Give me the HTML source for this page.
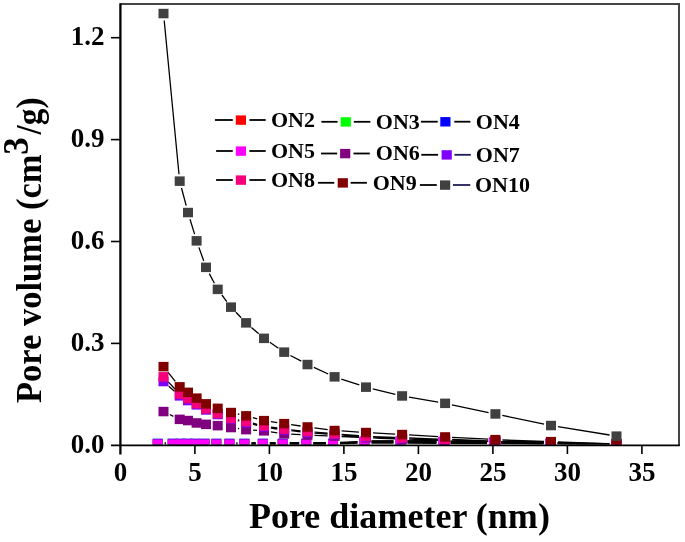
<!DOCTYPE html>
<html><head><meta charset="utf-8"><style>
html,body{margin:0;padding:0;background:#fff;}
svg{display:block;}
text{font-family:"Liberation Serif",serif;font-weight:bold;fill:#000;}
svg{will-change:transform;}
</style></head><body>
<svg width="685" height="542" viewBox="0 0 685 542">
<rect width="685" height="542" fill="#fff"/>
<defs><clipPath id="pc"><rect x="121" y="5" width="557" height="439.5"/></clipPath></defs>
<g clip-path="url(#pc)">
<path d="M164.7 444.0L165.7 444.0M236.4 444.0L237.4 444.0M251.4 444.0L255.8 444.0M269.8 444.0L275.7 444.0M289.7 444.0L299.2 444.0M313.2 444.0L326.0 444.0M340.0 443.8L357.5 443.2M371.5 443.0L393.5 443.2M407.5 443.2L436.5 443.4M450.5 443.4L487.0 443.6M501.0 443.6L543.5 444.0M557.5 444.1L609.5 444.4M164.7 444.3L165.7 444.3M236.4 444.3L237.4 444.3M251.4 444.3L255.8 444.3M269.8 444.3L275.7 444.3M289.7 444.3L299.2 444.3M313.2 444.3L326.0 444.3M340.0 443.9L357.5 442.7M371.5 442.3L393.5 442.2M407.5 442.2L436.5 442.0M450.5 442.1L487.0 442.5M501.0 442.7L543.5 443.4M557.5 443.6L609.5 444.4M164.7 444.2L165.7 444.2M236.4 444.2L237.4 444.2M251.4 444.2L255.8 444.2M269.8 444.2L275.7 444.2M289.7 444.2L299.2 444.2M313.2 444.2L326.0 444.2M340.0 443.5L357.5 441.7M371.5 441.0L393.5 440.8M407.5 440.9L436.5 441.2M450.5 441.4L487.0 441.9M501.0 442.1L543.5 442.9M557.5 443.1L609.5 444.1M169.8 414.5L173.4 416.3M237.9 428.5L239.2 428.6M253.1 430.1L257.0 430.4M270.9 431.9L277.3 432.8M291.2 434.2L300.5 434.6M314.5 435.3L327.6 435.8M341.6 436.5L359.0 437.4M373.0 438.1L395.1 438.9M409.1 439.4L438.1 440.3M452.1 440.7L488.4 441.6M502.4 442.0L544.0 442.8M558.0 443.1L609.5 443.9M168.7 386.2L174.5 391.2M237.8 420.6L239.3 420.9M252.9 424.2L257.2 425.3M270.9 428.0L277.3 429.0M291.2 430.7L300.5 431.8M314.5 433.0L327.6 434.0M341.6 435.1L359.0 436.4M373.0 437.3L395.1 438.2M409.1 438.7L438.1 439.8M452.1 440.2L488.4 441.3M502.4 441.7L544.0 442.6M558.0 442.9L609.5 443.9M168.3 381.9L174.9 389.0M237.9 419.8L239.2 420.1M252.9 423.2L257.2 424.3M270.9 427.1L277.3 428.0M291.2 429.8L300.5 430.8M314.5 432.1L327.6 433.2M341.6 434.4L359.0 435.7M373.0 436.6L395.1 437.5M409.1 438.0L438.1 439.1M452.1 439.5L488.4 440.8M502.4 441.2L544.0 442.3M558.0 442.6L609.5 443.7M167.9 372.1L175.3 381.3M237.8 414.0L239.3 414.4M252.9 417.7L257.2 418.8M270.9 421.7L277.3 422.6M291.1 424.7L300.6 426.0M314.4 427.9L327.7 429.6M341.6 430.9L359.0 432.1M373.0 432.9L395.1 434.1M409.1 434.9L438.1 436.6M452.1 437.4L488.4 439.2M502.4 439.9L544.0 441.4M558.0 441.9L609.5 443.8M164.2 20.5L179.0 174.2M181.5 188.0L186.2 205.7M190.0 219.2L194.6 234.1M198.9 247.4L203.7 260.8M209.3 273.6L214.4 283.2M221.9 295.0L226.8 301.6M235.9 312.2L241.2 317.8M251.4 327.4L258.7 333.8M269.8 342.3L278.4 348.3M290.4 355.5L301.3 361.2M313.9 367.4L328.2 374.0M341.3 379.1L359.3 384.9M372.8 388.8L395.3 394.3M409.0 397.2L438.2 402.2M451.9 404.8L488.6 412.6M502.3 415.4L544.1 424.1M557.9 426.6L609.6 435.0" fill="none" stroke="#000" stroke-width="1.3"/>
<path d="M164.7 443.4L165.7 443.4M236.4 443.4L237.4 443.4M251.4 443.4L255.8 443.4M269.8 443.4L275.7 443.4M289.7 443.4L299.2 443.4M313.2 443.4L326.0 443.4M340.0 443.0L357.5 442.2M371.5 441.7L393.5 441.6M407.5 441.5L436.5 441.6M450.5 441.7L487.0 442.2M501.0 442.4L543.5 443.1M557.5 443.3L609.5 444.2" fill="none" stroke="#000" stroke-width="2.6"/>
<rect x="152.7" y="439.2" width="10" height="9.5" fill="#ff0000"/>
<rect x="167.7" y="439.2" width="10" height="9.5" fill="#ff0000"/>
<rect x="175.5" y="439.2" width="10" height="9.5" fill="#ff0000"/>
<rect x="182.5" y="439.2" width="10" height="9.5" fill="#ff0000"/>
<rect x="190.0" y="439.2" width="10" height="9.5" fill="#ff0000"/>
<rect x="199.5" y="439.2" width="10" height="9.5" fill="#ff0000"/>
<rect x="211.3" y="439.2" width="10" height="9.5" fill="#ff0000"/>
<rect x="224.4" y="439.2" width="10" height="9.5" fill="#ff0000"/>
<rect x="239.4" y="439.2" width="10" height="9.5" fill="#ff0000"/>
<rect x="257.8" y="439.2" width="10" height="9.5" fill="#ff0000"/>
<rect x="277.7" y="439.2" width="10" height="9.5" fill="#ff0000"/>
<rect x="301.2" y="439.2" width="10" height="9.5" fill="#ff0000"/>
<rect x="328.0" y="439.2" width="10" height="9.5" fill="#ff0000"/>
<rect x="359.5" y="438.2" width="10" height="9.5" fill="#ff0000"/>
<rect x="395.5" y="438.4" width="10" height="9.5" fill="#ff0000"/>
<rect x="438.5" y="438.6" width="10" height="9.5" fill="#ff0000"/>
<rect x="489.0" y="438.9" width="10" height="9.5" fill="#ff0000"/>
<rect x="545.5" y="439.2" width="10" height="9.5" fill="#ff0000"/>
<rect x="611.5" y="439.8" width="10" height="9.5" fill="#ff0000"/>
<rect x="152.7" y="439.6" width="10" height="9.5" fill="#00ff00"/>
<rect x="167.7" y="439.6" width="10" height="9.5" fill="#00ff00"/>
<rect x="175.5" y="439.6" width="10" height="9.5" fill="#00ff00"/>
<rect x="182.5" y="439.6" width="10" height="9.5" fill="#00ff00"/>
<rect x="190.0" y="439.6" width="10" height="9.5" fill="#00ff00"/>
<rect x="199.5" y="439.6" width="10" height="9.5" fill="#00ff00"/>
<rect x="211.3" y="439.6" width="10" height="9.5" fill="#00ff00"/>
<rect x="224.4" y="439.6" width="10" height="9.5" fill="#00ff00"/>
<rect x="239.4" y="439.6" width="10" height="9.5" fill="#00ff00"/>
<rect x="257.8" y="439.6" width="10" height="9.5" fill="#00ff00"/>
<rect x="277.7" y="439.6" width="10" height="9.5" fill="#00ff00"/>
<rect x="301.2" y="439.6" width="10" height="9.5" fill="#00ff00"/>
<rect x="328.0" y="439.6" width="10" height="9.5" fill="#00ff00"/>
<rect x="359.5" y="437.6" width="10" height="9.5" fill="#00ff00"/>
<rect x="395.5" y="437.4" width="10" height="9.5" fill="#00ff00"/>
<rect x="438.5" y="437.2" width="10" height="9.5" fill="#00ff00"/>
<rect x="489.0" y="437.9" width="10" height="9.5" fill="#00ff00"/>
<rect x="545.5" y="438.8" width="10" height="9.5" fill="#00ff00"/>
<rect x="611.5" y="439.8" width="10" height="9.5" fill="#00ff00"/>
<rect x="152.7" y="438.6" width="10" height="9.5" fill="#2a10d0"/>
<rect x="167.7" y="438.6" width="10" height="9.5" fill="#2a10d0"/>
<rect x="175.5" y="438.6" width="10" height="9.5" fill="#2a10d0"/>
<rect x="182.5" y="438.6" width="10" height="9.5" fill="#2a10d0"/>
<rect x="190.0" y="438.6" width="10" height="9.5" fill="#2a10d0"/>
<rect x="199.5" y="438.6" width="10" height="9.5" fill="#2a10d0"/>
<rect x="211.3" y="438.6" width="10" height="9.5" fill="#2a10d0"/>
<rect x="224.4" y="438.6" width="10" height="9.5" fill="#2a10d0"/>
<rect x="239.4" y="438.6" width="10" height="9.5" fill="#2a10d0"/>
<rect x="257.8" y="438.6" width="10" height="9.5" fill="#2a10d0"/>
<rect x="277.7" y="438.6" width="10" height="9.5" fill="#2a10d0"/>
<rect x="301.2" y="438.6" width="10" height="9.5" fill="#2a10d0"/>
<rect x="328.0" y="438.6" width="10" height="9.5" fill="#2a10d0"/>
<rect x="359.5" y="437.1" width="10" height="9.5" fill="#2a10d0"/>
<rect x="395.5" y="436.8" width="10" height="9.5" fill="#2a10d0"/>
<rect x="438.5" y="436.9" width="10" height="9.5" fill="#2a10d0"/>
<rect x="489.0" y="437.6" width="10" height="9.5" fill="#2a10d0"/>
<rect x="545.5" y="438.4" width="10" height="9.5" fill="#2a10d0"/>
<rect x="611.5" y="439.6" width="10" height="9.5" fill="#2a10d0"/>
<rect x="152.7" y="439.4" width="10" height="9.5" fill="#ff00ff"/>
<rect x="167.7" y="439.4" width="10" height="9.5" fill="#ff00ff"/>
<rect x="175.5" y="439.4" width="10" height="9.5" fill="#ff00ff"/>
<rect x="182.5" y="439.4" width="10" height="9.5" fill="#ff00ff"/>
<rect x="190.0" y="439.4" width="10" height="9.5" fill="#ff00ff"/>
<rect x="199.5" y="439.4" width="10" height="9.5" fill="#ff00ff"/>
<rect x="211.3" y="439.4" width="10" height="9.5" fill="#ff00ff"/>
<rect x="224.4" y="439.4" width="10" height="9.5" fill="#ff00ff"/>
<rect x="239.4" y="439.4" width="10" height="9.5" fill="#ff00ff"/>
<rect x="257.8" y="439.4" width="10" height="9.5" fill="#ff00ff"/>
<rect x="277.7" y="439.4" width="10" height="9.5" fill="#ff00ff"/>
<rect x="301.2" y="439.4" width="10" height="9.5" fill="#ff00ff"/>
<rect x="328.0" y="439.4" width="10" height="9.5" fill="#ff00ff"/>
<rect x="359.5" y="436.2" width="10" height="9.5" fill="#ff00ff"/>
<rect x="395.5" y="436.1" width="10" height="9.5" fill="#ff00ff"/>
<rect x="438.5" y="436.6" width="10" height="9.5" fill="#ff00ff"/>
<rect x="489.0" y="437.2" width="10" height="9.5" fill="#ff00ff"/>
<rect x="545.5" y="438.2" width="10" height="9.5" fill="#ff00ff"/>
<rect x="611.5" y="439.4" width="10" height="9.5" fill="#ff00ff"/>
<rect x="158.5" y="406.8" width="10" height="9.5" fill="#800080"/>
<rect x="174.7" y="414.6" width="10" height="9.5" fill="#800080"/>
<rect x="183.0" y="415.8" width="10" height="9.5" fill="#800080"/>
<rect x="191.6" y="418.2" width="10" height="9.5" fill="#800080"/>
<rect x="201.0" y="419.6" width="10" height="9.5" fill="#800080"/>
<rect x="212.7" y="420.9" width="10" height="9.5" fill="#800080"/>
<rect x="226.0" y="422.8" width="10" height="9.5" fill="#800080"/>
<rect x="241.1" y="424.9" width="10" height="9.5" fill="#800080"/>
<rect x="259.0" y="426.1" width="10" height="9.5" fill="#800080"/>
<rect x="279.2" y="429.1" width="10" height="9.5" fill="#800080"/>
<rect x="302.5" y="430.2" width="10" height="9.5" fill="#800080"/>
<rect x="329.6" y="431.4" width="10" height="9.5" fill="#800080"/>
<rect x="361.0" y="433.1" width="10" height="9.5" fill="#800080"/>
<rect x="397.1" y="434.4" width="10" height="9.5" fill="#800080"/>
<rect x="440.1" y="435.8" width="10" height="9.5" fill="#800080"/>
<rect x="490.4" y="437.1" width="10" height="9.5" fill="#800080"/>
<rect x="546.0" y="438.2" width="10" height="9.5" fill="#800080"/>
<rect x="611.5" y="439.2" width="10" height="9.5" fill="#800080"/>
<rect x="158.5" y="376.8" width="10" height="9.5" fill="#8000ff"/>
<rect x="174.7" y="391.1" width="10" height="9.5" fill="#8000ff"/>
<rect x="183.0" y="395.8" width="10" height="9.5" fill="#8000ff"/>
<rect x="191.6" y="400.1" width="10" height="9.5" fill="#8000ff"/>
<rect x="201.0" y="405.2" width="10" height="9.5" fill="#8000ff"/>
<rect x="212.7" y="409.8" width="10" height="9.5" fill="#8000ff"/>
<rect x="226.0" y="414.2" width="10" height="9.5" fill="#8000ff"/>
<rect x="241.1" y="417.8" width="10" height="9.5" fill="#8000ff"/>
<rect x="259.0" y="422.2" width="10" height="9.5" fill="#8000ff"/>
<rect x="279.2" y="425.2" width="10" height="9.5" fill="#8000ff"/>
<rect x="302.5" y="427.8" width="10" height="9.5" fill="#8000ff"/>
<rect x="329.6" y="429.8" width="10" height="9.5" fill="#8000ff"/>
<rect x="361.0" y="432.2" width="10" height="9.5" fill="#8000ff"/>
<rect x="397.1" y="433.8" width="10" height="9.5" fill="#8000ff"/>
<rect x="440.1" y="435.2" width="10" height="9.5" fill="#8000ff"/>
<rect x="490.4" y="436.8" width="10" height="9.5" fill="#8000ff"/>
<rect x="546.0" y="438.1" width="10" height="9.5" fill="#8000ff"/>
<rect x="611.5" y="439.2" width="10" height="9.5" fill="#8000ff"/>
<rect x="158.5" y="372.1" width="10" height="9.5" fill="#f5007a"/>
<rect x="174.7" y="389.4" width="10" height="9.5" fill="#f5007a"/>
<rect x="183.0" y="393.8" width="10" height="9.5" fill="#f5007a"/>
<rect x="191.6" y="398.9" width="10" height="9.5" fill="#f5007a"/>
<rect x="201.0" y="404.1" width="10" height="9.5" fill="#f5007a"/>
<rect x="212.7" y="408.9" width="10" height="9.5" fill="#f5007a"/>
<rect x="226.0" y="413.6" width="10" height="9.5" fill="#f5007a"/>
<rect x="241.1" y="416.8" width="10" height="9.5" fill="#f5007a"/>
<rect x="259.0" y="421.2" width="10" height="9.5" fill="#f5007a"/>
<rect x="279.2" y="424.4" width="10" height="9.5" fill="#f5007a"/>
<rect x="302.5" y="426.8" width="10" height="9.5" fill="#f5007a"/>
<rect x="329.6" y="429.1" width="10" height="9.5" fill="#f5007a"/>
<rect x="361.0" y="431.6" width="10" height="9.5" fill="#f5007a"/>
<rect x="397.1" y="433.1" width="10" height="9.5" fill="#f5007a"/>
<rect x="440.1" y="434.6" width="10" height="9.5" fill="#f5007a"/>
<rect x="490.4" y="436.2" width="10" height="9.5" fill="#f5007a"/>
<rect x="546.0" y="437.8" width="10" height="9.5" fill="#f5007a"/>
<rect x="611.5" y="439.1" width="10" height="9.5" fill="#f5007a"/>
<rect x="158.5" y="361.9" width="10" height="9.5" fill="#800000"/>
<rect x="174.7" y="382.1" width="10" height="9.5" fill="#800000"/>
<rect x="183.0" y="387.6" width="10" height="9.5" fill="#800000"/>
<rect x="191.6" y="393.4" width="10" height="9.5" fill="#800000"/>
<rect x="201.0" y="399.1" width="10" height="9.5" fill="#800000"/>
<rect x="212.7" y="403.6" width="10" height="9.5" fill="#800000"/>
<rect x="226.0" y="407.8" width="10" height="9.5" fill="#800000"/>
<rect x="241.1" y="411.1" width="10" height="9.5" fill="#800000"/>
<rect x="259.0" y="415.9" width="10" height="9.5" fill="#800000"/>
<rect x="279.2" y="418.9" width="10" height="9.5" fill="#800000"/>
<rect x="302.5" y="422.2" width="10" height="9.5" fill="#800000"/>
<rect x="329.6" y="425.8" width="10" height="9.5" fill="#800000"/>
<rect x="361.0" y="427.8" width="10" height="9.5" fill="#800000"/>
<rect x="397.1" y="429.8" width="10" height="9.5" fill="#800000"/>
<rect x="440.1" y="432.2" width="10" height="9.5" fill="#800000"/>
<rect x="490.4" y="434.9" width="10" height="9.5" fill="#800000"/>
<rect x="546.0" y="436.9" width="10" height="9.5" fill="#800000"/>
<rect x="611.5" y="439.2" width="10" height="9.5" fill="#800000"/>
<rect x="158.5" y="8.8" width="10" height="9.5" fill="#404040"/>
<rect x="174.7" y="176.4" width="10" height="9.5" fill="#404040"/>
<rect x="183.0" y="207.8" width="10" height="9.5" fill="#404040"/>
<rect x="191.6" y="236.1" width="10" height="9.5" fill="#404040"/>
<rect x="201.0" y="262.6" width="10" height="9.5" fill="#404040"/>
<rect x="212.7" y="284.6" width="10" height="9.5" fill="#404040"/>
<rect x="226.0" y="302.4" width="10" height="9.5" fill="#404040"/>
<rect x="241.1" y="318.1" width="10" height="9.5" fill="#404040"/>
<rect x="259.0" y="333.6" width="10" height="9.5" fill="#404040"/>
<rect x="279.2" y="347.4" width="10" height="9.5" fill="#404040"/>
<rect x="302.5" y="359.8" width="10" height="9.5" fill="#404040"/>
<rect x="329.6" y="372.1" width="10" height="9.5" fill="#404040"/>
<rect x="361.0" y="382.4" width="10" height="9.5" fill="#404040"/>
<rect x="397.1" y="391.2" width="10" height="9.5" fill="#404040"/>
<rect x="440.1" y="398.6" width="10" height="9.5" fill="#404040"/>
<rect x="490.4" y="409.2" width="10" height="9.5" fill="#404040"/>
<rect x="546.0" y="420.8" width="10" height="9.5" fill="#404040"/>
<rect x="611.5" y="431.4" width="10" height="9.5" fill="#404040"/>
</g>
<polyline points="120.4,4.1 679,4.1 679,445.35" fill="none" stroke="#444" stroke-width="2" stroke-linejoin="miter"/>
<line x1="120.4" y1="3.3" x2="120.4" y2="454.4" stroke="#000" stroke-width="2.3"/>
<line x1="111" y1="445.35" x2="679.9" y2="445.35" stroke="#000" stroke-width="1.9"/>
<line x1="111" y1="343.4" x2="120.4" y2="343.4" stroke="#000" stroke-width="1.6"/>
<line x1="111" y1="241.5" x2="120.4" y2="241.5" stroke="#000" stroke-width="1.6"/>
<line x1="111" y1="139.6" x2="120.4" y2="139.6" stroke="#000" stroke-width="1.6"/>
<line x1="111" y1="37.7" x2="120.4" y2="37.7" stroke="#000" stroke-width="1.6"/>
<line x1="194.9" y1="445.35" x2="194.9" y2="454" stroke="#000" stroke-width="1.6"/>
<line x1="269.4" y1="445.35" x2="269.4" y2="454" stroke="#000" stroke-width="1.6"/>
<line x1="343.9" y1="445.35" x2="343.9" y2="454" stroke="#000" stroke-width="1.6"/>
<line x1="418.4" y1="445.35" x2="418.4" y2="454" stroke="#000" stroke-width="1.6"/>
<line x1="492.9" y1="445.35" x2="492.9" y2="454" stroke="#000" stroke-width="1.6"/>
<line x1="567.4" y1="445.35" x2="567.4" y2="454" stroke="#000" stroke-width="1.6"/>
<line x1="641.9" y1="445.35" x2="641.9" y2="454" stroke="#000" stroke-width="1.6"/>
<g font-size="27">
<text x="104.6" y="452.5" text-anchor="end">0.0</text>
<text x="104.6" y="350.5" text-anchor="end">0.3</text>
<text x="104.6" y="248.6" text-anchor="end">0.6</text>
<text x="104.6" y="146.7" text-anchor="end">0.9</text>
<text x="104.6" y="44.8" text-anchor="end">1.2</text>
</g>
<g font-size="27">
<text x="120.4" y="481.3" text-anchor="middle">0</text>
<text x="194.9" y="481.3" text-anchor="middle">5</text>
<text x="269.4" y="481.3" text-anchor="middle">10</text>
<text x="343.9" y="481.3" text-anchor="middle">15</text>
<text x="418.4" y="481.3" text-anchor="middle">20</text>
<text x="492.9" y="481.3" text-anchor="middle">25</text>
<text x="567.4" y="481.3" text-anchor="middle">30</text>
<text x="641.9" y="481.3" text-anchor="middle">35</text>
</g>
<g font-size="21">
<line x1="214.9" y1="120.0" x2="232.8" y2="120.0" stroke="#000" stroke-width="1.8"/>
<rect x="235.8" y="115.4" width="10.2" height="9.4" fill="#ff0000"/>
<line x1="249.4" y1="120.0" x2="265.7" y2="120.0" stroke="#000" stroke-width="1.8"/>
<text x="270.9" y="126.9" textLength="44.0" lengthAdjust="spacingAndGlyphs">ON2</text>
<line x1="321.4" y1="121.8" x2="337.6" y2="121.8" stroke="#000" stroke-width="1.8"/>
<rect x="340.7" y="117.2" width="10.2" height="9.4" fill="#00ff00"/>
<line x1="353.8" y1="121.8" x2="370.4" y2="121.8" stroke="#000" stroke-width="1.8"/>
<text x="375.8" y="128.7" textLength="44.0" lengthAdjust="spacingAndGlyphs">ON3</text>
<line x1="420.9" y1="121.7" x2="437.7" y2="121.7" stroke="#000" stroke-width="1.8"/>
<rect x="440.3" y="117.1" width="10.2" height="9.4" fill="#0000ff"/>
<line x1="454.3" y1="121.7" x2="470.4" y2="121.7" stroke="#000" stroke-width="1.8"/>
<text x="475.8" y="128.6" textLength="44.0" lengthAdjust="spacingAndGlyphs">ON4</text>
<line x1="216.1" y1="151.0" x2="232.8" y2="151.0" stroke="#000" stroke-width="1.8"/>
<rect x="235.8" y="146.4" width="10.2" height="9.4" fill="#ff00ff"/>
<line x1="249.4" y1="151.0" x2="265.7" y2="151.0" stroke="#000" stroke-width="1.8"/>
<text x="270.9" y="157.9" textLength="44.0" lengthAdjust="spacingAndGlyphs">ON5</text>
<line x1="321.0" y1="153.5" x2="337.2" y2="153.5" stroke="#000" stroke-width="1.8"/>
<rect x="340.1" y="148.9" width="10.2" height="9.4" fill="#800080"/>
<line x1="353.5" y1="153.5" x2="369.8" y2="153.5" stroke="#000" stroke-width="1.8"/>
<text x="375.8" y="160.4" textLength="44.0" lengthAdjust="spacingAndGlyphs">ON6</text>
<line x1="421.3" y1="154.8" x2="438.0" y2="154.8" stroke="#000" stroke-width="1.8"/>
<rect x="441.6" y="150.2" width="10.2" height="9.4" fill="#8000ff"/>
<line x1="454.4" y1="154.8" x2="470.8" y2="154.8" stroke="#1c1c55" stroke-width="1.8"/>
<text x="475.8" y="161.7" textLength="44.0" lengthAdjust="spacingAndGlyphs">ON7</text>
<line x1="216.1" y1="180.0" x2="232.8" y2="180.0" stroke="#000" stroke-width="1.8"/>
<rect x="235.8" y="175.4" width="10.2" height="9.4" fill="#f5007a"/>
<line x1="249.4" y1="180.0" x2="265.7" y2="180.0" stroke="#000" stroke-width="1.8"/>
<text x="270.9" y="186.9" textLength="44.0" lengthAdjust="spacingAndGlyphs">ON8</text>
<line x1="317.9" y1="182.8" x2="334.3" y2="182.8" stroke="#000" stroke-width="1.8"/>
<rect x="337.7" y="178.2" width="10.2" height="9.4" fill="#800000"/>
<line x1="350.6" y1="182.8" x2="366.9" y2="182.8" stroke="#000" stroke-width="1.8"/>
<text x="372.7" y="189.7" textLength="44.0" lengthAdjust="spacingAndGlyphs">ON9</text>
<line x1="419.9" y1="185.0" x2="436.8" y2="185.0" stroke="#000" stroke-width="1.8"/>
<rect x="440.0" y="180.4" width="10.2" height="9.4" fill="#404040"/>
<line x1="453.0" y1="185.0" x2="470.3" y2="185.0" stroke="#1c1c55" stroke-width="1.8"/>
<text x="475.0" y="191.9" textLength="55.0" lengthAdjust="spacingAndGlyphs">ON10</text>
</g>
<text x="248.9" y="528.3" font-size="35.3" textLength="301" lengthAdjust="spacingAndGlyphs">Pore diameter (nm)</text>
<g transform="translate(40.6,403) rotate(-90)" font-size="35"><text x="0" y="0" textLength="248.5" lengthAdjust="spacingAndGlyphs">Pore volume (cm</text><text x="248.3" y="-12.3">3</text><text x="268.6" y="0" textLength="37" lengthAdjust="spacingAndGlyphs">/g)</text></g>
</svg>
</body></html>
